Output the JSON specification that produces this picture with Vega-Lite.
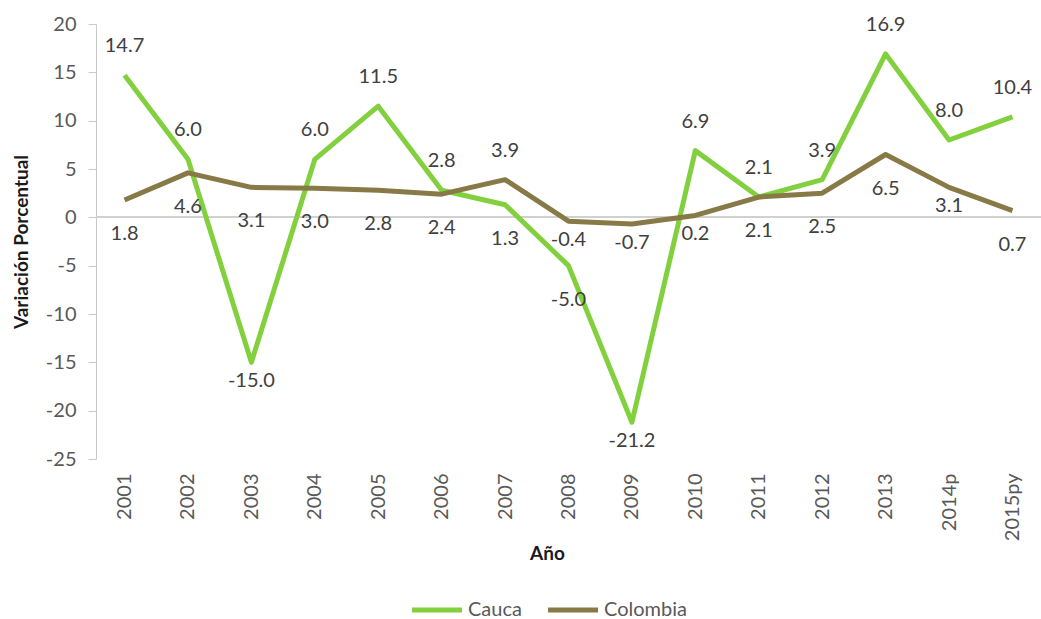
{
  "$schema": "https://vega.github.io/schema/vega-lite/v6.json",
  "width": 945,
  "height": 435,
  "autosize": {"type": "none"},
  "padding": {"left": 96, "top": 24, "right": 0, "bottom": 160},
  "background": "white",
  "config": {
    "locale": {"number": {"decimal": ".", "thousands": ",", "grouping": [3], "currency": ["$", ""], "minus": "-"}},
    "view": {"stroke": null},
    "font": "Lato",
    "axis": {"labelFont": "Lato", "titleFont": "Lato", "labelFontSize": 20, "labelColor": "#595959", "titleColor": "#1a1a1a", "titleFontWeight": "bold", "titleFontSize": 19, "grid": false},
    "legend": {"labelFont": "Lato"}
  },
  "data": {
    "values": [
      {"year": "2001", "serie": "Cauca", "value": 14.7},
      {"year": "2002", "serie": "Cauca", "value": 6.0},
      {"year": "2003", "serie": "Cauca", "value": -15.0},
      {"year": "2004", "serie": "Cauca", "value": 6.0},
      {"year": "2005", "serie": "Cauca", "value": 11.5},
      {"year": "2006", "serie": "Cauca", "value": 2.8},
      {"year": "2007", "serie": "Cauca", "value": 1.3},
      {"year": "2008", "serie": "Cauca", "value": -5.0},
      {"year": "2009", "serie": "Cauca", "value": -21.2},
      {"year": "2010", "serie": "Cauca", "value": 6.9},
      {"year": "2011", "serie": "Cauca", "value": 2.1},
      {"year": "2012", "serie": "Cauca", "value": 3.9},
      {"year": "2013", "serie": "Cauca", "value": 16.9},
      {"year": "2014p", "serie": "Cauca", "value": 8.0},
      {"year": "2015py", "serie": "Cauca", "value": 10.4},
      {"year": "2001", "serie": "Colombia", "value": 1.8},
      {"year": "2002", "serie": "Colombia", "value": 4.6},
      {"year": "2003", "serie": "Colombia", "value": 3.1},
      {"year": "2004", "serie": "Colombia", "value": 3.0},
      {"year": "2005", "serie": "Colombia", "value": 2.8},
      {"year": "2006", "serie": "Colombia", "value": 2.4},
      {"year": "2007", "serie": "Colombia", "value": 3.9},
      {"year": "2008", "serie": "Colombia", "value": -0.4},
      {"year": "2009", "serie": "Colombia", "value": -0.7},
      {"year": "2010", "serie": "Colombia", "value": 0.2},
      {"year": "2011", "serie": "Colombia", "value": 2.1},
      {"year": "2012", "serie": "Colombia", "value": 2.5},
      {"year": "2013", "serie": "Colombia", "value": 6.5},
      {"year": "2014p", "serie": "Colombia", "value": 3.1},
      {"year": "2015py", "serie": "Colombia", "value": 0.7}
    ]
  },
  "encoding": {
    "x": {
      "field": "year", "type": "ordinal", "sort": null,
      "scale": {"type": "point", "padding": 0.45},
      "axis": {"title": "Año", "labelAngle": -90, "labelPadding": 14, "ticks": false, "domain": false, "titleX": 451, "titleY": 94, "titleBaseline": "middle"}
    },
    "y": {
      "field": "value", "type": "quantitative",
      "scale": {"domain": [-25, 20], "nice": false, "zero": false},
      "axis": {"title": "Variación Porcentual", "values": [-25, -20, -15, -10, -5, 0, 5, 10, 15, 20], "domainColor": "#c8c8c8", "tickColor": "#c8c8c8", "tickSize": 8, "labelPadding": 12, "titlePadding": 14}
    }
  },
  "layer": [
    {
      "mark": {"type": "rule", "color": "#d0d0d0", "strokeWidth": 1.5},
      "encoding": {"x": null, "y": {"datum": 0}}
    },
    {
      "mark": {"type": "line", "strokeWidth": 5, "strokeJoin": "round"},
      "encoding": {
        "color": {
          "field": "serie", "type": "nominal",
          "scale": {"domain": ["Cauca", "Colombia"], "range": ["#83D03F", "#887A46"]},
          "legend": {"orient": "none", "legendX": 326, "legendY": 571, "direction": "horizontal", "title": null, "symbolType": "M-2,0H2", "symbolSize": 625, "symbolStrokeWidth": 5, "labelFontSize": 20, "labelColor": "#595959", "labelOffset": 16, "columnPadding": 16}
        }
      }
    },
    {
      "transform": [{"filter": "(datum.serie=='Cauca' && indexof(['2003','2007','2008','2009'], datum.year) < 0) || (datum.serie=='Colombia' && datum.year=='2007')"}],
      "mark": {"type": "text", "dy": -29, "fontSize": 20, "color": "#404040", "font": "Lato"},
      "encoding": {"text": {"field": "value", "type": "quantitative", "format": ".1f"}}
    },
    {
      "transform": [{"filter": "(datum.serie=='Cauca' && indexof(['2007','2008'], datum.year) >= 0) || (datum.serie=='Colombia' && indexof(['2007','2008','2009','2010','2014p'], datum.year) < 0)"}],
      "mark": {"type": "text", "dy": 34, "fontSize": 20, "color": "#404040", "font": "Lato"},
      "encoding": {"text": {"field": "value", "type": "quantitative", "format": ".1f"}}
    },
    {
      "transform": [{"filter": "(datum.serie=='Cauca' && indexof(['2003','2009'], datum.year) >= 0) || (datum.serie=='Colombia' && indexof(['2008','2009','2010','2014p'], datum.year) >= 0)"}],
      "mark": {"type": "text", "dy": 19, "fontSize": 20, "color": "#404040", "font": "Lato"},
      "encoding": {"text": {"field": "value", "type": "quantitative", "format": ".1f"}}
    }
  ]
}
